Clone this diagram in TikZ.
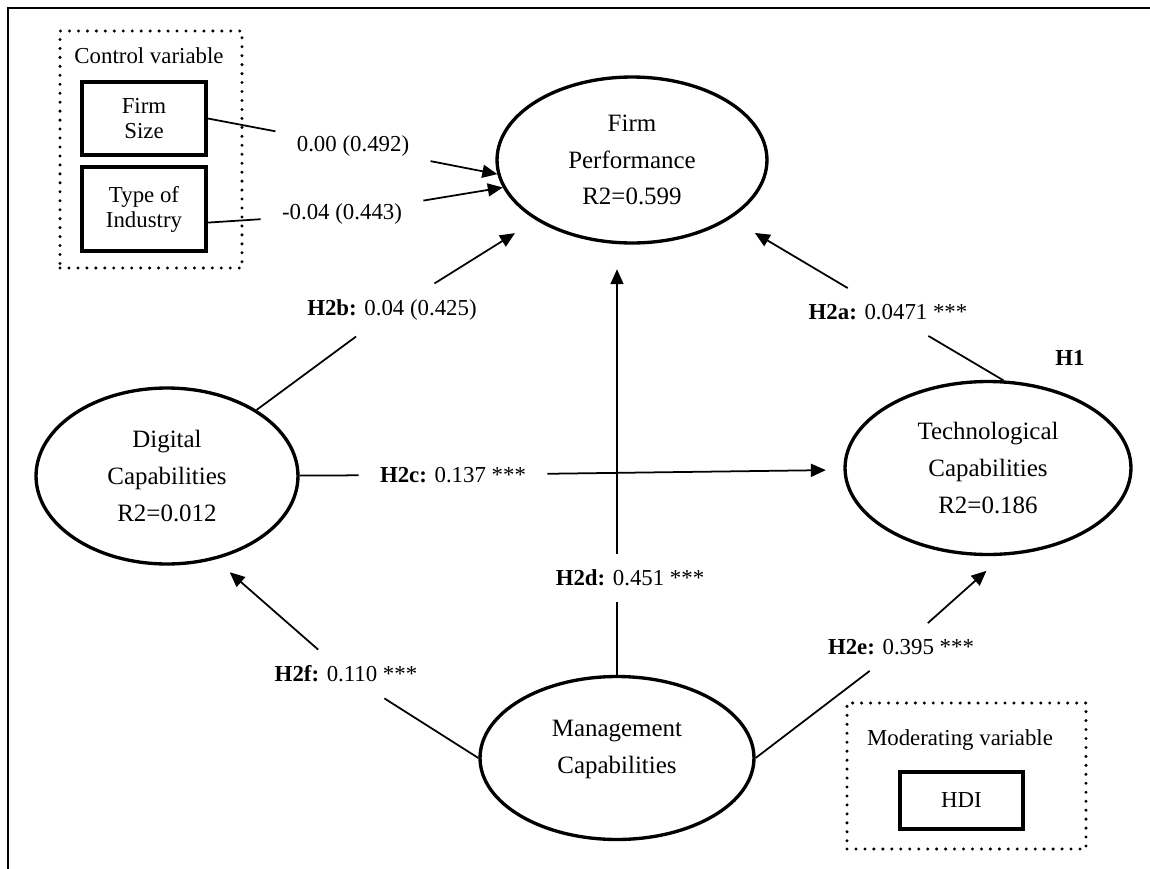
\documentclass[tikz,border=0pt]{standalone}
\usepackage{fontspec}
\setmainfont{Liberation Serif}
\usetikzlibrary{arrows.meta,shapes.geometric}

\tikzset{
  construct/.style={ellipse, draw, line width=1.9pt, inner sep=0pt, align=center,
    font=\fontsize{14.2}{21}\selectfont},
  varbox/.style={rectangle, draw, line width=2.2pt, inner sep=0pt, align=center,
    font=\fontsize{13}{14.2}\selectfont},
  group/.style={rectangle, draw, line width=1.9pt, line cap=round, dash pattern=on 0pt off 5.1pt},
  grouptitle/.style={font=\fontsize{13}{15}\selectfont},
  coef/.style={inner xsep=12pt, inner ysep=9pt, font=\fontsize{13}{15}\selectfont},
  link/.style={line width=1pt},
  effect/.style={link, -{Triangle[length=8.5pt,width=7.4pt]}},
}

\begin{document}
\begin{tikzpicture}[x=0.02cm, y=-0.02cm]
      \useasboundingbox (0,0) rectangle (1150,869);
      %this draws the frame
      \draw[line width=1.3pt] (8,869) -- (8,8) -- (1150,8);
      %this draws the control and moderating variables
      \node [group, minimum width=3.64cm, minimum height=4.74cm] (ctrl) at (151,149.5) {};
      \node [grouptitle] (ctrltitle) at (149,56) {Control variable};
      \node [varbox, minimum width=2.48cm, minimum height=1.46cm] (fsize) at (144,118.5) {Firm\\Size};
      \node [varbox, minimum width=2.48cm, minimum height=1.68cm] (tind) at (144,209) {Type of\\Industry};
      \node [group, minimum width=4.78cm, minimum height=2.92cm] (mod) at (966.5,776) {};
      \node [grouptitle] (modtitle) at (960,740) {Moderating variable};
      \node [varbox, minimum width=2.46cm, minimum height=1.14cm] (hdi) at (961.5,800.5) {HDI};
      %this draws the constructs
      \node [construct, minimum width=5.4cm, minimum height=3.32cm] (fp) at (632,160) {Firm\\Performance\\R2=0.599};
      \node [construct, minimum width=5.24cm, minimum height=3.52cm] (dc) at (167,476) {Digital\\Capabilities\\R2=0.012};
      \node [construct, minimum width=5.72cm, minimum height=3.46cm] (tc) at (988,468) {Technological\\Capabilities\\R2=0.186};
      \node [construct, minimum width=5.48cm, minimum height=3.26cm,
        label={[align=center, font=\fontsize{14.2}{21}\selectfont, yshift=5pt]center:Management\\Capabilities}] (mc) at (617,758) {};
      %this draws the coefficients
      \node [coef] (l0) at (353,146) {0.00 (0.492)};
      \node [coef] (l1) at (342,214) {-0.04 (0.443)};
      \node [coef] (lb) at (392,310) {\textbf{H2b:} 0.04 (0.425)};
      \node [coef] (la) at (888,312) {\textbf{H2a:} 0.0471 ***};
      \node [coef] (lc) at (453,475) {\textbf{H2c:} 0.137 ***};
      \node [coef] (ld) at (630,578) {\textbf{H2d:} 0.451 ***};
      \node [coef] (le) at (901,647) {\textbf{H2e:} 0.395 ***};
      \node [coef] (lf) at (346,674) {\textbf{H2f:} 0.110 ***};
      \node [grouptitle, font=\fontsize{13}{15}\selectfont\bfseries] (h1) at (1070,358) {H1};
      %this draws the paths
      \foreach \from/\via/\to/\cut in {fsize.east/l0/fp.186/0pt, tind.-12/l1/fp.192/0pt,
          dc/lb/fp/14pt, tc.80/la/fp/16pt, dc/lc/tc/10pt,
          mc.east/le/tc.280/13pt, mc.west/lf/dc.300/11pt}
        {
        \draw[link] (\from) -- (\via);
        \draw[effect, shorten >=\cut] (\via) -- (\to);
        }
      \draw[link] (mc) -- (mc |- ld.south);
      \draw[effect, shorten >=14pt] (mc |- ld.north) -- (mc |- fp.south);
\end{tikzpicture}
\end{document}
